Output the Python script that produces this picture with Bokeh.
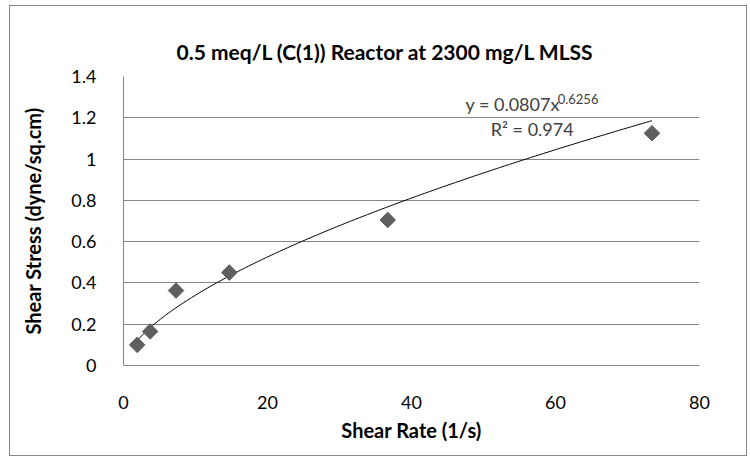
import numpy as np
from bokeh.plotting import figure
from bokeh.models import ColumnDataSource, Label, FixedTicker, Range1d
from bokeh.embed import file_html
from bokeh.resources import INLINE

# Data
shear_rate = [1.9, 3.7, 7.3, 14.7, 36.7, 73.4]
shear_stress = [0.10, 0.165, 0.363, 0.45, 0.705, 1.125]

# Power trendline shown on the chart: y = a * x^b
trend_a = 0.0807
trend_b = 0.6256
r_squared = 0.974

x_ticks = [0, 20, 40, 60, 80]
y_ticks = [0, 0.2, 0.4, 0.6, 0.8, 1.0, 1.2, 1.4]

title_text = "0.5 meq/L (C(1)) Reactor at 2300 mg/L MLSS"
x_label = "Shear Rate (1/s)"
y_label = "Shear Stress (dyne/sq.cm)"

FONT = "Lato"
GRID = "#868686"

p = figure(
    width=738, height=451,
    output_backend="svg", toolbar_location=None,
    x_range=Range1d(0, 80), y_range=Range1d(0, 1.4),
    min_border_left=113, min_border_right=49,
    min_border_top=70, min_border_bottom=92,
)
p.margin = (5, 0, 0, 9)
p.styles = {"border": "1px solid #868686"}
p.background_fill_color = "white"
p.border_fill_color = "white"
p.outline_line_color = None

# Title
p.title.text = title_text
p.title.text_font = FONT
p.title.text_font_style = "bold"
p.title.text_font_size = "21px"
p.title.text_color = "#000000"
p.title.align = "left"
p.title.offset = 53
p.title.standoff = 25

# Axes
for ax in (p.xaxis[0], p.yaxis[0]):
    ax.axis_line_color = GRID
    ax.major_tick_line_color = None
    ax.minor_tick_line_color = None
    ax.major_label_text_font = FONT
    ax.major_label_text_font_size = "18px"
    ax.major_label_text_color = "#000000"
    ax.axis_label_text_font = FONT
    ax.axis_label_text_font_style = "bold"
    ax.axis_label_text_font_size = "20px"
    ax.axis_label_text_color = "#000000"

p.xaxis.ticker = FixedTicker(ticks=x_ticks)
p.yaxis.ticker = FixedTicker(ticks=y_ticks)
p.yaxis.major_label_overrides = {0: "0", 0.2: "0.2", 0.4: "0.4", 0.6: "0.6", 0.8: "0.8",
                                 1.0: "1", 1.2: "1.2", 1.4: "1.4"}
p.xaxis.axis_label = x_label
p.yaxis.axis_label = y_label
p.xaxis.major_label_standoff = 24
p.xaxis.axis_label_standoff = 6
p.yaxis.major_label_standoff = 21
p.yaxis.axis_label_standoff = 23

p.xgrid.grid_line_color = None
p.ygrid.grid_line_color = GRID
p.ygrid.grid_line_width = 1

# Trendline
tx = np.linspace(min(shear_rate), max(shear_rate), 200)
ty = trend_a * tx ** trend_b
p.line(tx, ty, line_color="#000000", line_width=1)

# Points
src = ColumnDataSource(dict(x=shear_rate, y=shear_stress))
p.scatter("x", "y", source=src, marker="square", angle=np.pi / 4, size=11,
          fill_color="#5f5f5f", line_color="#5f5f5f")

# Equation labels
eq_main = Label(x=47.5, y=1.266, text=f"y = {trend_a}x", text_font=FONT,
                text_font_size="18px", text_color="#404040", text_baseline="alphabetic")
p.add_layout(eq_main)
eq_sup = Label(x=60.3, y=1.291, text=f"{trend_b}", text_font=FONT,
               text_font_size="13px", text_color="#404040", text_baseline="alphabetic")
p.add_layout(eq_sup)
eq_r2 = Label(x=51.0, y=1.148, text=f"R\u00b2 = {r_squared}", text_font=FONT,
              text_font_size="18px", text_color="#404040", text_baseline="alphabetic")
p.add_layout(eq_r2)

open("out.html", "w").write(file_html(p, INLINE))
